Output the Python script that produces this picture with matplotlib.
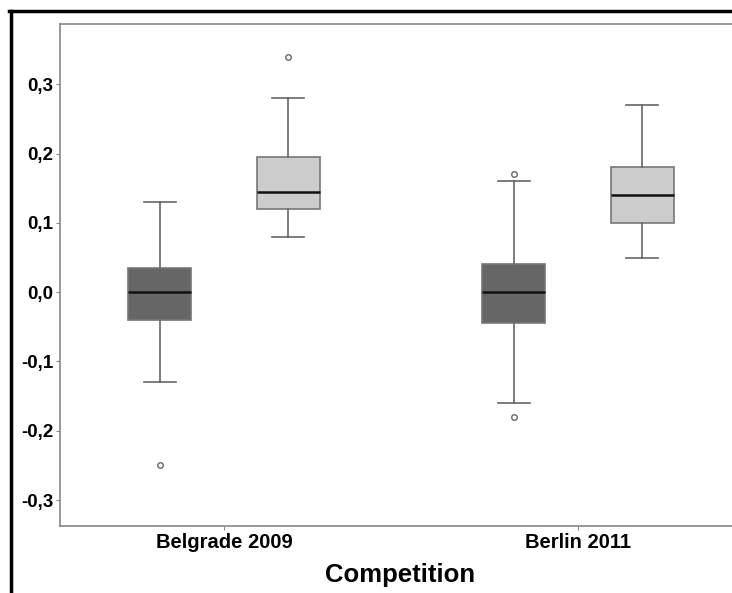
import matplotlib
matplotlib.use("Agg")
import matplotlib.pyplot as plt
from matplotlib.lines import Line2D

# ---- data ----
competitions = ["Belgrade 2009", "Berlin 2011"]
series = ["dark", "light"]
whislo = [[-0.13, 0.08], [-0.16, 0.05]]
q1 = [[-0.04, 0.12], [-0.045, 0.10]]
med = [[0.0, 0.145], [0.0, 0.14]]
q3 = [[0.035, 0.195], [0.04, 0.18]]
whishi = [[0.13, 0.28], [0.16, 0.27]]
fliers = [[[-0.25], [0.34]], [[0.17, -0.18], []]]
yticks = [-0.3, -0.2, -0.1, 0.0, 0.1, 0.2, 0.3]
ytick_labels = ["-0,3", "-0,2", "-0,1", "0,0", "0,1", "0,2", "0,3"]
colors = ["#666666", "#cccccc"]

plt.rcParams['font.family'] = ['Liberation Sans', 'DejaVu Sans']
W, H = 732, 593
fig = plt.figure(figsize=(W / 100, H / 100), dpi=100)
ax = fig.add_axes([60 / W, (H - 526) / H, (740 - 60) / W, (526 - 24) / H])

offset = 0.182
for gi in range(len(competitions)):
    for si in range(len(series)):
        st = [dict(whislo=whislo[gi][si], q1=q1[gi][si], med=med[gi][si],
                   q3=q3[gi][si], whishi=whishi[gi][si], fliers=fliers[gi][si])]
        pos = gi + (-offset if si == 0 else offset)
        ax.bxp(st, positions=[pos], widths=0.18, capwidths=0.09,
               patch_artist=True, manage_ticks=False,
               boxprops=dict(facecolor=colors[si], edgecolor="#777777", linewidth=1.2),
               medianprops=dict(color="#111111", linewidth=1.8),
               whiskerprops=dict(color="#666666", linewidth=1.2),
               capprops=dict(color="#666666", linewidth=1.2),
               flierprops=dict(marker="o", markersize=4, markerfacecolor="white",
                               markeredgecolor="#666666", markeredgewidth=1.0))

px_per_unit = 354.0
ax.set_xlim(-(224 - 60) / px_per_unit, (740 - 224) / px_per_unit)
ax.set_xticks(range(len(competitions)))
ax.set_xticklabels(competitions, fontsize=14.5, fontweight="bold")
ax.set_ylim(-0.3375, 0.387)
ax.set_yticks(yticks)
ax.set_yticklabels(ytick_labels, fontsize=13.5, fontweight="bold")
ax.set_xlabel("Competition", fontsize=18.5, fontweight="bold", labelpad=8)
ax.tick_params(axis="both", length=3, color="#888888", width=0.8, pad=2)
for sp in ["left", "bottom", "top"]:
    ax.spines[sp].set_color("#888888")
    ax.spines[sp].set_linewidth(1.2)
ax.spines["right"].set_visible(False)

# outer black frame (top and left)
fig.add_artist(Line2D([9 / W, 1.0], [1 - 11 / H, 1 - 11 / H], color="black",
                      linewidth=2.5, transform=fig.transFigure))
fig.add_artist(Line2D([11 / W, 11 / W], [1 - 11 / H, 0], color="black",
                      linewidth=2.5, transform=fig.transFigure))

fig.savefig("out.png", dpi=100)
